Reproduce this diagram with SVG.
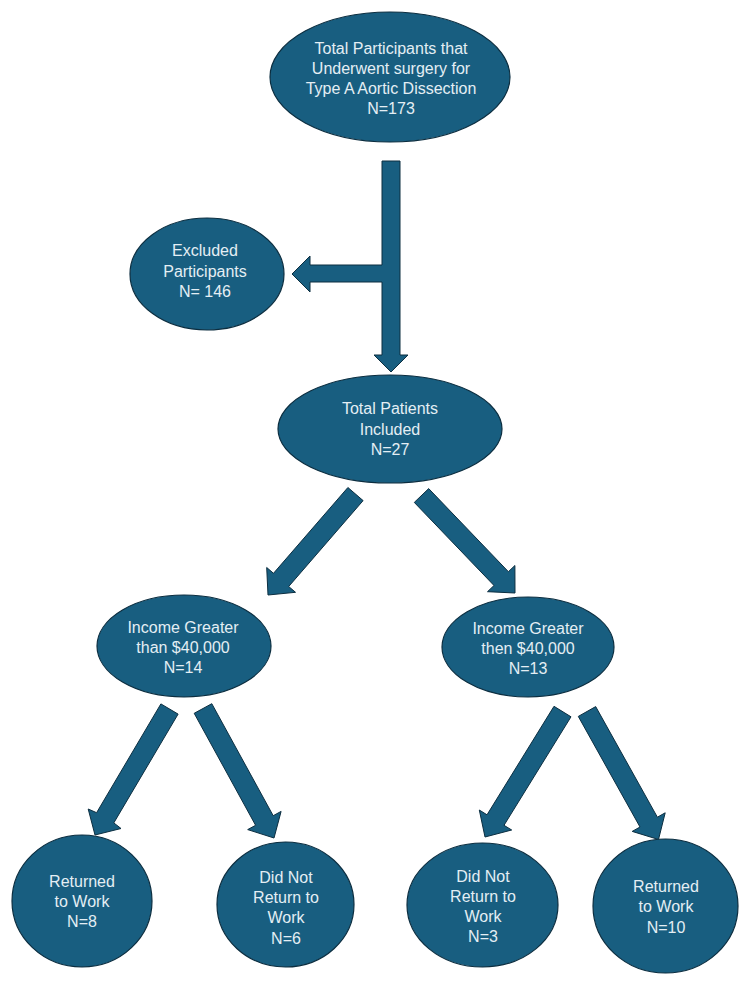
<svg xmlns="http://www.w3.org/2000/svg" width="750" height="995" viewBox="0 0 750 995">
<style>
.n{fill:#185e80;stroke:#0c2e40;stroke-width:1.2}
.a{fill:#185e80;stroke:#0c2e40;stroke-width:1;stroke-linejoin:miter}
.t{font-family:"Liberation Sans",Arial,sans-serif;font-size:16px;fill:#e4eef4;text-anchor:middle}
</style>
<rect width="750" height="995" fill="#ffffff"/>
<g id="connectors">
<path class="a" d="M382,161 L400,161 L400,355 L408,355 L391,372 L374,355 L382,355 L382,282 L310,282 L310,292 L292,274 L310,256 L310,265 L382,265 Z"/>
<polygon class="a" points="347.9,487.5 273.5,573.3 266.7,567.5 268,595 295.5,592.3 288.7,586.5 363.1,500.6"/>
<polygon class="a" points="414.3,502.4 494,585.5 487.5,591.7 515,593 514.9,565.5 508.4,571.7 428.7,488.6"/>
<polygon class="a" points="160.9,703.9 96.6,812.7 88.2,809 95,835 121,828.5 113.8,822.9 178.1,714.1"/>
<polygon class="a" points="194.2,713.3 255.6,825.3 247.7,829.6 274,838 281.1,811.4 273.2,815.7 211.8,703.7"/>
<polygon class="a" points="554,706.3 487,814.8 479.3,810 485,837 511.7,830 504,825.3 571,716.8"/>
<polygon class="a" points="578.3,716.4 640,827 632.2,831.4 658.5,839.5 665.2,812.8 657.4,817.2 595.7,706.6"/>
</g>
<g id="n_total">
<ellipse class="n" cx="390" cy="77" rx="120" ry="65"/>
<text class="t" x="391" y="54">Total Participants that</text>
<text class="t" x="391" y="74">Underwent surgery for</text>
<text class="t" x="391" y="94">Type A Aortic Dissection</text>
<text class="t" x="391" y="114">N=173</text>
</g>
<g id="n_excluded">
<ellipse class="n" cx="207" cy="274" rx="77" ry="56"/>
<text class="t" x="205" y="256">Excluded</text>
<text class="t" x="205" y="276.5">Participants</text>
<text class="t" x="205" y="297">N= 146</text>
</g>
<g id="n_included">
<ellipse class="n" cx="390" cy="429" rx="112" ry="54"/>
<text class="t" x="390" y="414">Total Patients</text>
<text class="t" x="390" y="434.5">Included</text>
<text class="t" x="390" y="455">N=27</text>
</g>
<g id="n_income_left">
<ellipse class="n" cx="184" cy="646" rx="87" ry="51"/>
<text class="t" x="183" y="633">Income Greater</text>
<text class="t" x="183" y="653">than $40,000</text>
<text class="t" x="183" y="673">N=14</text>
</g>
<g id="n_income_right">
<ellipse class="n" cx="528" cy="647" rx="86" ry="50"/>
<text class="t" x="528" y="634">Income Greater</text>
<text class="t" x="528" y="654">then $40,000</text>
<text class="t" x="528" y="674">N=13</text>
</g>
<g id="n_returned_8">
<ellipse class="n" cx="82" cy="901" rx="70" ry="66"/>
<text class="t" x="82" y="887">Returned</text>
<text class="t" x="82" y="907">to Work</text>
<text class="t" x="82" y="927">N=8</text>
</g>
<g id="n_notreturned_6">
<ellipse class="n" cx="285.5" cy="904.5" rx="68.5" ry="62.5"/>
<text class="t" x="286" y="883">Did Not</text>
<text class="t" x="286" y="903">Return to</text>
<text class="t" x="286" y="923">Work</text>
<text class="t" x="286" y="944">N=6</text>
</g>
<g id="n_notreturned_3">
<ellipse class="n" cx="482.5" cy="905" rx="75.5" ry="62"/>
<text class="t" x="483" y="882">Did Not</text>
<text class="t" x="483" y="902">Return to</text>
<text class="t" x="483" y="922">Work</text>
<text class="t" x="483" y="942">N=3</text>
</g>
<g id="n_returned_10">
<ellipse class="n" cx="665.5" cy="906" rx="72.5" ry="67"/>
<text class="t" x="666" y="892">Returned</text>
<text class="t" x="666" y="912">to Work</text>
<text class="t" x="666" y="933">N=10</text>
</g>
</svg>
